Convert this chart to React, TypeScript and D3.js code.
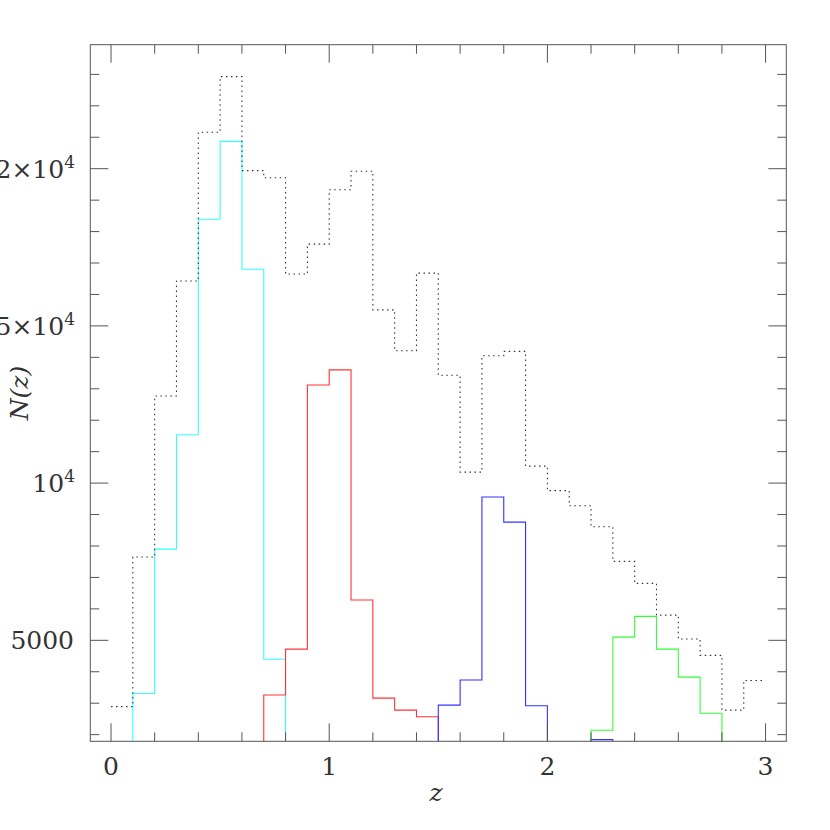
import React from "react";
import * as d3 from "d3";

// bin edges: 0.0 .. 3.0 step 0.1 (30 bins)
const binStart = 0;
const binWidth = 0.1;
const totalCounts = [2890, 7650, 12770, 16430, 21160, 22930, 19940, 19710, 16650, 17600, 19330, 19920, 15510, 14210, 16680, 13430, 10350, 14050, 14190, 10540, 9760, 9280, 8610, 7510, 6810, 5800, 5040, 4520, 2780, 3720];
const cyanCounts = [0, 3310, 7900, 11540, 18390, 20870, 16800, 4400, 0, 0, 0, 0, 0, 0, 0, 0, 0, 0, 0, 0, 0, 0, 0, 0, 0, 0, 0, 0, 0, 0];
const redCounts = [0, 0, 0, 0, 0, 0, 0, 3260, 4720, 13120, 13600, 6280, 3160, 2780, 2570, 0, 0, 0, 0, 0, 0, 0, 0, 0, 0, 0, 0, 0, 0, 0];
const blueCounts = [0, 0, 0, 0, 0, 0, 0, 0, 0, 0, 0, 0, 0, 0, 0, 2940, 3740, 9560, 8760, 2920, 0, 0, 1840, 0, 0, 0, 0, 0, 0, 0];
const greenCounts = [0, 0, 0, 0, 0, 0, 0, 0, 0, 0, 0, 0, 0, 0, 0, 0, 0, 0, 0, 0, 0, 0, 2140, 5100, 5760, 4720, 3830, 2680, 0, 0];

const xMajor = [0, 1, 2, 3];
const yMajorLabels = [
  { v: 5000, base: "5000", sup: "" },
  { v: 10000, base: "10", sup: "4" },
  { v: 15000, base: "1.5×10", sup: "4" },
  { v: 20000, base: "2×10", sup: "4" },
];

const L = 90.3, R = 786.3, T = 44.7, B = 741.3;
const x = d3.scaleLinear().domain([-0.095, 3.095]).range([L, R]);
const y = d3.scaleLinear().domain([1788, 23944]).range([B, T]);

function stepPath(vals: number[]) {
  const pts: [number, number][] = [];
  vals.forEach((v, i) => {
    const x0 = binStart + i * binWidth;
    const x1 = x0 + binWidth;
    const yy = v <= 0 ? 0 : v;
    pts.push([x(x0), y(yy)]);
    pts.push([x(x1), y(yy)]);
  });
  return d3.line()(pts) || "";
}

export default function App() {
  const axisColor = "#555";
  const textColor = "#333";
  const xMinor = d3.range(-0.0, 3.1, 0.2).map((d) => +d.toFixed(1)).filter((d) => !xMajor.includes(d));
  const yMinor = d3.range(2000, 24000, 1000).filter((d) => d % 5000 !== 0);
  const yMajor = [5000, 10000, 15000, 20000];
  const font = "'DejaVu Serif', serif";
  return (
    <svg width={830} height={830} style={{ position: "absolute", left: 0, top: 0, background: "#fff" }}>
      <defs>
        <clipPath id="plot">
          <rect x={L} y={T} width={R - L} height={B - T} />
        </clipPath>
      </defs>
      <g clipPath="url(#plot)" fill="none" strokeWidth={1.1}>
        <path d={stepPath(cyanCounts)} stroke="#33ffff" />
        <path d={stepPath(redCounts)} stroke="#ff3333" />
        <path d={stepPath(blueCounts)} stroke="#3333ff" />
        <path d={stepPath(greenCounts)} stroke="#33ff33" />
        <path d={stepPath(totalCounts)} stroke="#333" strokeDasharray="1.5 3.5" />
      </g>
      {/* frame */}
      <rect x={L} y={T} width={R - L} height={B - T} fill="none" stroke={axisColor} strokeWidth={1} />
      {/* x ticks */}
      <g stroke={axisColor} strokeWidth={1}>
        {xMajor.map((d) => (
          <g key={"xM" + d}>
            <line x1={x(d)} x2={x(d)} y1={B} y2={B - 18} />
            <line x1={x(d)} x2={x(d)} y1={T} y2={T + 18} />
          </g>
        ))}
        {xMinor.map((d) => (
          <g key={"xm" + d}>
            <line x1={x(d)} x2={x(d)} y1={B} y2={B - 9} />
            <line x1={x(d)} x2={x(d)} y1={T} y2={T + 9} />
          </g>
        ))}
        {yMajor.map((d) => (
          <g key={"yM" + d}>
            <line x1={L} x2={L + 18} y1={y(d)} y2={y(d)} />
            <line x1={R} x2={R - 18} y1={y(d)} y2={y(d)} />
          </g>
        ))}
        {yMinor.map((d) => (
          <g key={"ym" + d}>
            <line x1={L} x2={L + 9} y1={y(d)} y2={y(d)} />
            <line x1={R} x2={R - 9} y1={y(d)} y2={y(d)} />
          </g>
        ))}
      </g>
      {/* x labels */}
      <g fontFamily={font} fontSize={25} fill={textColor} textAnchor="middle">
        {xMajor.map((d) => (
          <text key={"xl" + d} x={x(d)} y={775}>{d}</text>
        ))}
      </g>
      {/* y labels */}
      <g fontFamily={font} fontSize={25} fill={textColor} textAnchor="end">
        {yMajorLabels.map((l) => (
          <text key={"yl" + l.v} x={l.sup ? 75 : 74} y={y(l.v) + 9}>
            {l.base}
            {l.sup ? (
              <tspan fontSize={17} dy={-10}>{l.sup}</tspan>
            ) : null}
          </text>
        ))}
      </g>
      <text x={436} y={801} fontFamily={font} fontStyle="italic" fontSize={25} fill={textColor} textAnchor="middle">z</text>
      <text transform={`translate(28,${(T + B) / 2}) rotate(-90)`} fontFamily={font} fontStyle="italic" fontSize={25} fill={textColor} textAnchor="middle">N(z)</text>
    </svg>
  );
}
